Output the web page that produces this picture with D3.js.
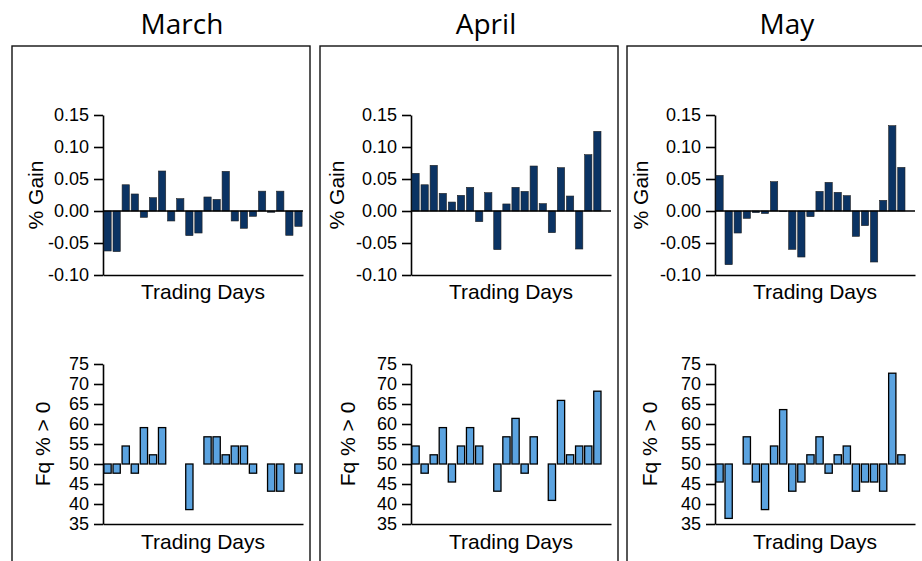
<!DOCTYPE html>
<html>
<head>
<meta charset="utf-8">
<script src="https://cdn.jsdelivr.net/npm/d3@7"></script>
<style>
  body { margin: 0; background: #fff; }
  svg { display: block; }
</style>
</head>
<body>
<div id="chart"></div>
<script>
// months shown side by side
var months = ["March", "April", "May"];

// daily % gain (top row)
var gainMarch = [-0.0625, -0.0635, 0.041, 0.0266, -0.0099, 0.0208, 0.0625, -0.0156, 0.0193, -0.0385, -0.0344,
    0.0219, 0.0182, 0.062, -0.0156, -0.027, -0.0083, 0.031, -0.002, 0.031, -0.038, -0.024];
var gainApril = [0.0589, 0.041, 0.0714, 0.0276, 0.014, 0.0245, 0.037, -0.0167, 0.0286, -0.0604, 0.011,
    0.037, 0.0307, 0.0703, 0.0115, -0.0339, 0.0677, 0.0234, -0.0594, 0.088, 0.1245];
var gainMay = [0.0557, -0.0839, -0.0344, -0.0115, -0.0026, -0.004, 0.0458, -0.001, -0.0599, -0.0719, -0.0089,
    0.0307, 0.0448, 0.0292, 0.024, -0.0396, -0.0229, -0.0797, 0.0167, 0.1333, 0.0682];

// frequency % of years with gain > 0 (bottom row)
var fqMarch = [47.7, 47.7, 54.5, 47.7, 59.1, 52.3, 59.1, 50, 50, 38.6, 50,
    56.8, 56.8, 52.3, 54.5, 54.5, 47.7, 50, 43.2, 43.2, 50, 47.7];
var fqApril = [54.5, 47.7, 52.3, 59.1, 45.5, 54.5, 59.1, 54.5, 50, 43.2, 56.8,
    61.4, 47.7, 56.8, 50, 40.9, 65.9, 52.3, 54.5, 54.5, 68.2];
var fqMay = [45.5, 36.4, 50, 56.8, 45.5, 38.6, 54.5, 63.6, 43.2, 45.5, 52.3,
    56.8, 47.7, 52.3, 54.5, 43.2, 45.5, 45.5, 43.2, 72.7, 52.3];

var gainTicks = [-0.10, -0.05, 0.00, 0.05, 0.10, 0.15];
var fqTicks = [35, 40, 45, 50, 55, 60, 65, 70, 75];
var tradingDays = d3.range(1, 23);

var gainData = [gainMarch, gainApril, gainMay];
var fqData = [fqMarch, fqApril, fqMay];

// layout
var W = 922, H = 561;
var boxLeft = [12, 320, 627], boxW = 298, boxTop = 46;
var axisX = [103, 411, 715], plotW = 200;
var titleX = [182, 486, 787];
var gainLabelX = [43, 344, 648];
var fqLabelX = [50, 355, 657];
var tickFont = "'Liberation Sans', Arial, sans-serif";

var svg = d3.select("#chart")
    .append("svg")
    .attr("width", W)
    .attr("height", H);

var yGain = d3.scaleLinear().domain([-0.10, 0.15]).range([275, 115]);
var yFq = d3.scaleLinear().domain([35, 75]).range([524, 364]);

months.forEach(function(m, i) {
    var g = svg.append("g");

    g.append("rect")
        .attr("x", boxLeft[i])
        .attr("y", boxTop)
        .attr("width", boxW)
        .attr("height", 600)
        .attr("fill", "none")
        .attr("stroke", "#111")
        .attr("stroke-width", 1.4);

    g.append("text")
        .attr("x", titleX[i])
        .attr("y", 34)
        .attr("text-anchor", "middle")
        .style("font-family", "'Open Sans', sans-serif")
        .style("font-size", "28px")
        .style("fill", "#000")
        .text(m);

    var x = d3.scaleBand()
        .domain(tradingDays)
        .range([axisX[i], axisX[i] + plotW])
        .paddingInner(0.2)
        .paddingOuter(0.1);

    // ---- % gain
    var yAx = g.append("g")
        .attr("transform", "translate(" + axisX[i] + ",0)")
        .call(d3.axisLeft(yGain).tickValues(gainTicks).tickSize(9).tickSizeOuter(0).tickPadding(5)
            .tickFormat(function(d) { return d.toFixed(2); }));
    yAx.attr("font-family", tickFont).attr("font-size", 18);
    yAx.selectAll("text").attr("fill", "#000");
    yAx.selectAll("line, path").attr("stroke", "#000").attr("stroke-width", 1.6);

    var xAx = g.append("g")
        .attr("transform", "translate(0," + yGain(-0.10) + ")")
        .call(d3.axisBottom(x).tickValues([]).tickSizeOuter(0));
    xAx.select(".domain").attr("stroke", "#000").attr("stroke-width", 1.6);

    g.selectAll(".gain")
        .data(gainData[i])
        .enter()
        .append("rect")
        .attr("class", "gain")
        .attr("x", function(d, j) { return x(tradingDays[j]); })
        .attr("y", function(d) { return yGain(Math.max(0, d)); })
        .attr("width", x.bandwidth())
        .attr("height", function(d) { return Math.abs(yGain(d) - yGain(0)); })
        .attr("fill", "#0b3363")
        .attr("stroke", "#222")
        .attr("stroke-width", 0.6);

    g.append("line")
        .attr("x1", axisX[i])
        .attr("x2", axisX[i] + plotW)
        .attr("y1", yGain(0))
        .attr("y2", yGain(0))
        .attr("stroke", "#000")
        .attr("stroke-width", 1.6);

    g.append("text")
        .attr("transform", "translate(" + gainLabelX[i] + "," + yGain(0.025) + ") rotate(-90)")
        .attr("text-anchor", "middle")
        .style("font-family", tickFont)
        .style("font-size", "21px")
        .text("% Gain");

    g.append("text")
        .attr("x", axisX[i] + plotW / 2)
        .attr("y", 299)
        .attr("text-anchor", "middle")
        .style("font-family", tickFont)
        .style("font-size", "21px")
        .text("Trading Days");

    // ---- Fq % > 0
    var yAx2 = g.append("g")
        .attr("transform", "translate(" + axisX[i] + ",0)")
        .call(d3.axisLeft(yFq).tickValues(fqTicks).tickSize(9).tickSizeOuter(0).tickPadding(5));
    yAx2.attr("font-family", tickFont).attr("font-size", 18);
    yAx2.selectAll("text").attr("fill", "#000");
    yAx2.selectAll("line, path").attr("stroke", "#000").attr("stroke-width", 1.6);

    var xAx2 = g.append("g")
        .attr("transform", "translate(0," + yFq(35) + ")")
        .call(d3.axisBottom(x).tickValues([]).tickSizeOuter(0));
    xAx2.select(".domain").attr("stroke", "#000").attr("stroke-width", 1.6);

    // days at exactly 50 % draw no bar
    var fqRows = fqData[i]
        .map(function(v, j) { return { day: tradingDays[j], value: v }; })
        .filter(function(d) { return d.value !== 50; });

    g.selectAll(".fq")
        .data(fqRows)
        .enter()
        .append("rect")
        .attr("class", "fq")
        .attr("x", function(d) { return x(d.day); })
        .attr("y", function(d) { return yFq(Math.max(50, d.value)); })
        .attr("width", x.bandwidth())
        .attr("height", function(d) { return Math.abs(yFq(d.value) - yFq(50)); })
        .attr("fill", "#5ba3e0")
        .attr("stroke", "#000")
        .attr("stroke-width", 1.3);

    g.append("text")
        .attr("transform", "translate(" + fqLabelX[i] + "," + yFq(55) + ") rotate(-90)")
        .attr("text-anchor", "middle")
        .style("font-family", tickFont)
        .style("font-size", "21px")
        .text("Fq % > 0");

    g.append("text")
        .attr("x", axisX[i] + plotW / 2)
        .attr("y", 549)
        .attr("text-anchor", "middle")
        .style("font-family", tickFont)
        .style("font-size", "21px")
        .text("Trading Days");
});
</script>
</body>
</html>
